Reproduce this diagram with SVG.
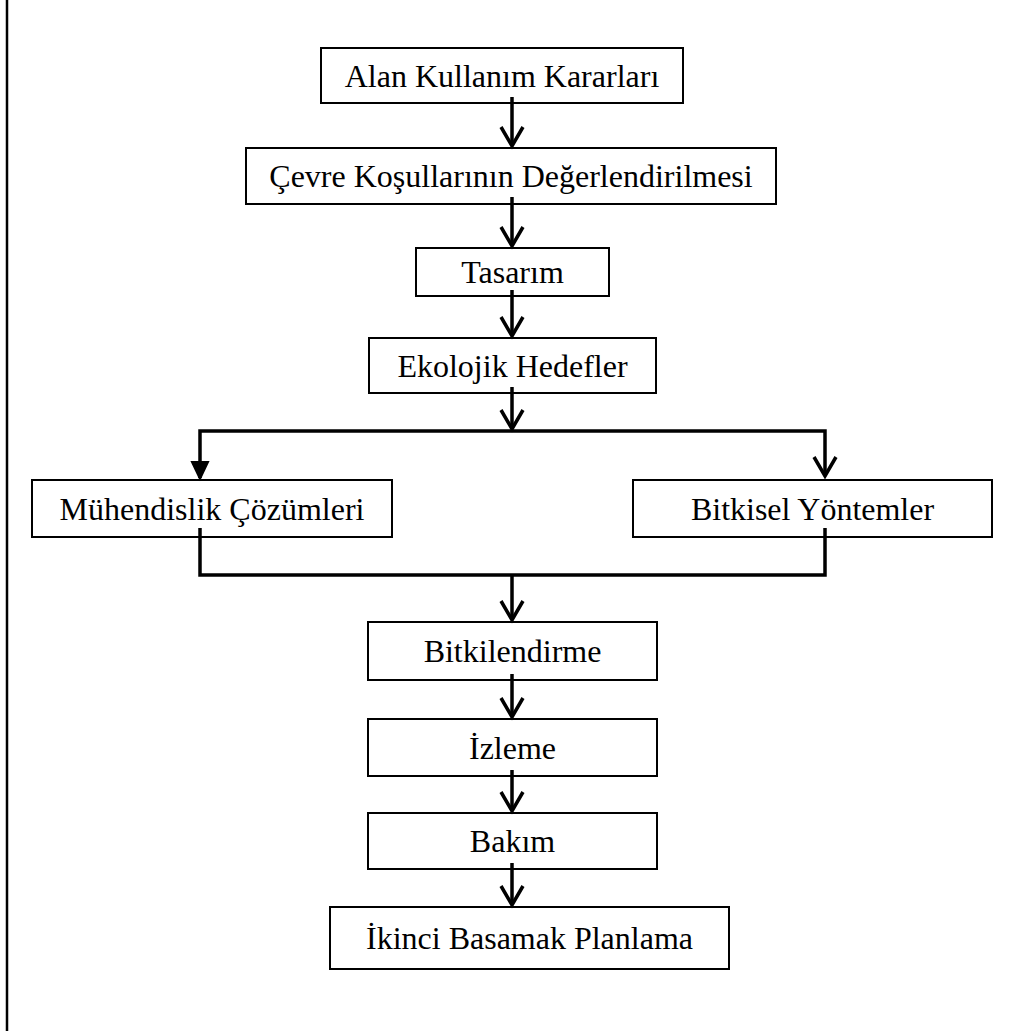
<svg xmlns="http://www.w3.org/2000/svg" width="1011" height="1031" viewBox="0 0 1011 1031">
<style>
.box{fill:#fff;stroke:#000;stroke-width:2}
.lbl{font-family:"Liberation Serif","Times New Roman",serif;font-size:32px;fill:#000;text-anchor:middle}
.ln{fill:none;stroke:#000;stroke-width:3.5;stroke-linejoin:miter}
.hd{fill:none;stroke:#000;stroke-width:3.5;stroke-linejoin:miter}
</style>
<rect width="1011" height="1031" fill="#fff"/>
<line x1="7" y1="0" x2="7" y2="1031" stroke="#000" stroke-width="2.5"/>
<g id="n1"><rect class="box" x="321" y="48" width="362" height="55"/><text class="lbl" x="502" y="87">Alan Kullanım Kararları</text></g>
<g id="n2"><rect class="box" x="246" y="148" width="530" height="56"/><text class="lbl" x="511" y="187">Çevre Koşullarının Değerlendirilmesi</text></g>
<g id="n3"><rect class="box" x="416" y="248" width="193" height="48"/><text class="lbl" x="512.5" y="283">Tasarım</text></g>
<g id="n4"><rect class="box" x="369" y="338" width="287" height="55"/><text class="lbl" x="512.5" y="377">Ekolojik Hedefler</text></g>
<g id="n5"><rect class="box" x="32" y="480" width="360" height="57"/><text class="lbl" x="212" y="520">Mühendislik Çözümleri</text></g>
<g id="n6"><rect class="box" x="633" y="480" width="359" height="57"/><text class="lbl" x="812.5" y="520">Bitkisel Yöntemler</text></g>
<g id="n7"><rect class="box" x="368" y="622" width="289" height="58"/><text class="lbl" x="512.5" y="662">Bitkilendirme</text></g>
<g id="n8"><rect class="box" x="368" y="719" width="289" height="57"/><text class="lbl" x="512.5" y="759">İzleme</text></g>
<g id="n9"><rect class="box" x="368" y="813" width="289" height="56"/><text class="lbl" x="512.5" y="852">Bakım</text></g>
<g id="n10"><rect class="box" x="330" y="907" width="399" height="62"/><text class="lbl" x="529.5" y="949">İkinci Basamak Planlama</text></g>
<g id="connectors">
<path class="ln" d="M512 97V146"/><path class="hd" d="M501 127L512 146L523 127"/>
<path class="ln" d="M512 197V246"/><path class="hd" d="M501 227L512 246L523 227"/>
<path class="ln" d="M512 290V336"/><path class="hd" d="M501 317L512 336L523 317"/>
<path class="ln" d="M512 387V429"/><path class="hd" d="M501 410L512 429L523 410"/>
<path class="ln" d="M200 478V431H825V476"/>
<path d="M192 462L200 479L208 462Z" fill="#000" stroke="#000" stroke-width="2"/>
<path class="hd" d="M814 457L825 476L836 457"/>
<path class="ln" d="M200 528V575H825V528"/>
<path class="ln" d="M512 575V620"/><path class="hd" d="M501 601L512 620L523 601"/>
<path class="ln" d="M512 674V717"/><path class="hd" d="M501 698L512 717L523 698"/>
<path class="ln" d="M512 770V811"/><path class="hd" d="M501 792L512 811L523 792"/>
<path class="ln" d="M512 863V905"/><path class="hd" d="M501 886L512 905L523 886"/>
</g>
</svg>
